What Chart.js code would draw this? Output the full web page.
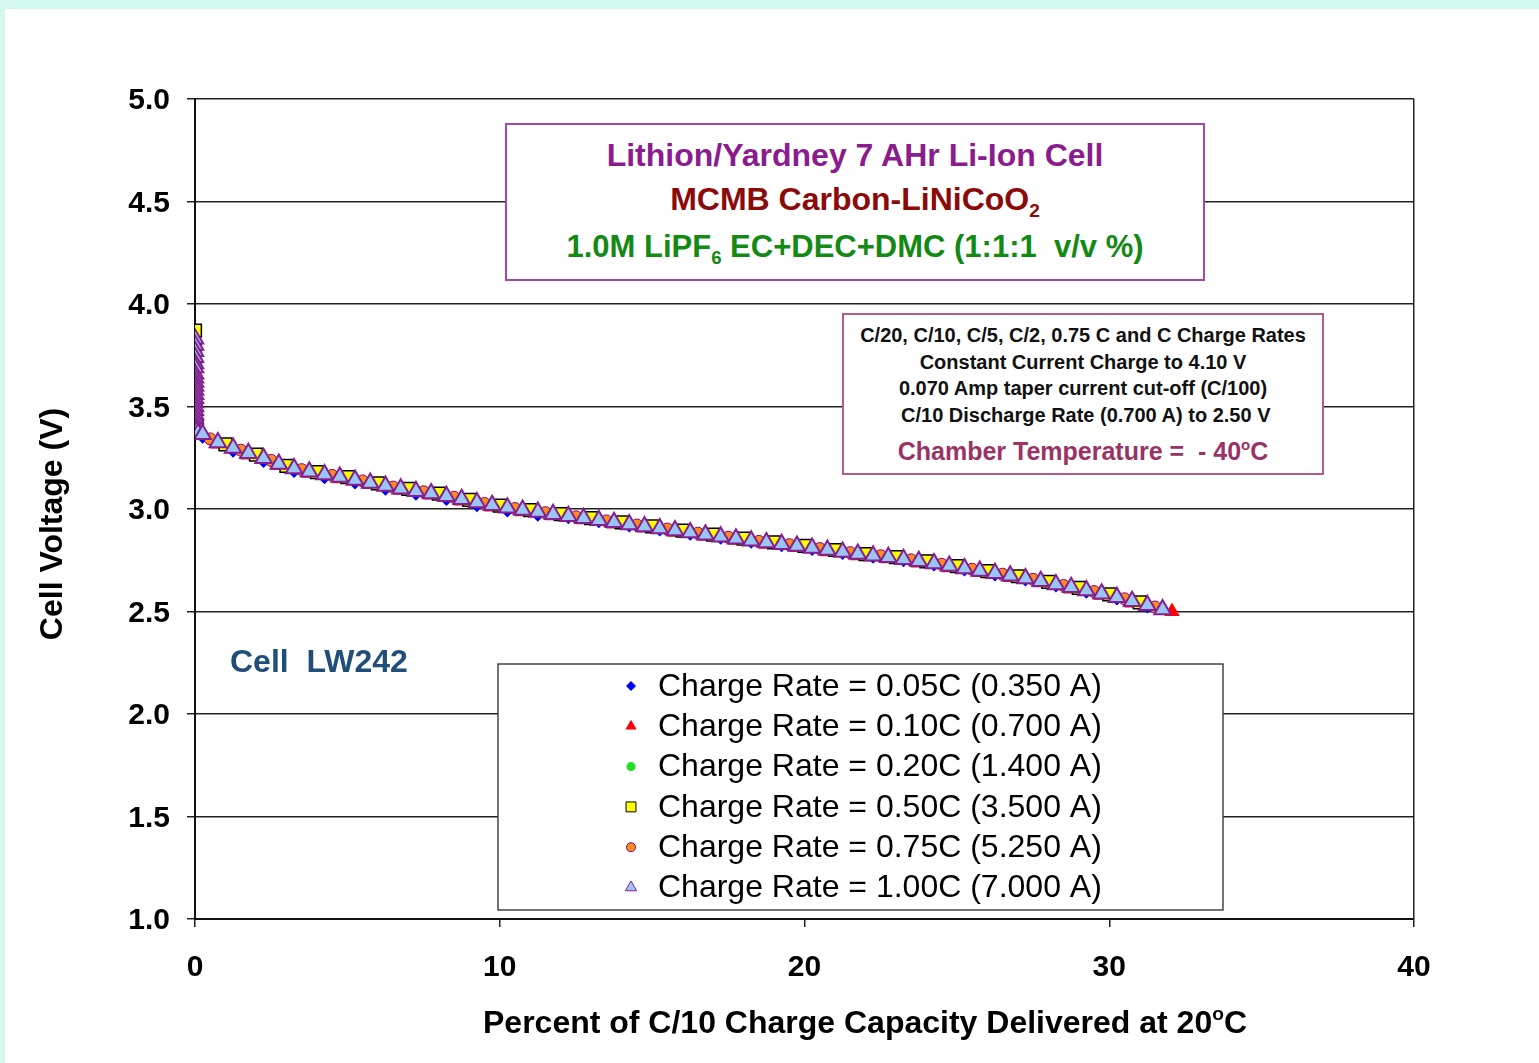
<!DOCTYPE html>
<html>
<head>
<meta charset="utf-8">
<script src="https://cdn.jsdelivr.net/npm/chart.js@4.4.1/dist/chart.umd.min.js"></script>
<style>
  html, body { margin: 0; padding: 0; width: 1539px; height: 1063px; overflow: hidden;
    background: #d3f8ee; font-family: "Liberation Sans", Arial, sans-serif; }
  #panel { position: absolute; left: 5px; top: 9px; width: 1534px; height: 1054px; background: #fff; }
  #chart { position: absolute; left: 0; top: 0; }
  .box { position: absolute; background: #fff; box-sizing: border-box; font-weight: bold; }
  .ln { position: absolute; left: 0; right: 0; text-align: center; white-space: nowrap; }
  .axt { position: absolute; font-weight: bold; font-size: 32px; line-height: 38px; height: 38px;
    text-align: center; white-space: nowrap; color: #000; }
  sub { font-size: 60%; vertical-align: -0.35em; line-height: 0; }
  sup { font-size: 60%; vertical-align: 0.7em; line-height: 0; }
</style>
</head>
<body>
<div id="panel">
  <canvas id="chart" width="1534" height="1054"></canvas>

  <div class="axt" style="left:360px; top:994px; width:1000px;">Percent of C/10 Charge Capacity Delivered at 20<sup>o</sup>C</div>
  <div class="axt" style="left:-154px; top:496px; width:400px; transform:rotate(-90deg);">Cell Voltage (V)</div>

  <div class="box" style="left:500px; top:114px; width:700px; height:158px; border:2px solid #a347a8;">
    <div class="ln" style="top:12px; line-height:36px; font-size:32px; color:#8a1c8e;">Lithion/Yardney 7 AHr Li-Ion Cell</div>
    <div class="ln" style="top:56px; line-height:36px; font-size:32px; color:#8b0a0a;">MCMB Carbon-LiNiCoO<sub>2</sub></div>
    <div class="ln" style="top:104px; line-height:36px; font-size:31px; color:#138a13;">1.0M LiPF<sub>6</sub> EC+DEC+DMC (1:1:1&nbsp; v/v %)</div>
  </div>

  <div class="box" style="left:837px; top:304px; width:482px; height:162px; border:2px solid #b45a8c;">
    <div class="ln" style="top:7px; line-height:26px; font-size:20px; color:#111;">C/20, C/10, C/5, C/2, 0.75 C and C Charge Rates</div>
    <div class="ln" style="top:34px; line-height:26px; font-size:20px; color:#111;">Constant Current Charge to 4.10 V</div>
    <div class="ln" style="top:60px; line-height:26px; font-size:20px; color:#111;">0.070 Amp taper current cut-off (C/100)</div>
    <div class="ln" style="top:87px; line-height:26px; font-size:20px; color:#111;">&nbsp;C/10 Discharge Rate (0.700 A) to 2.50 V</div>
    <div class="ln" style="top:120px; line-height:32px; font-size:25px; color:#993366;">Chamber Temperature = &nbsp;- 40<sup>o</sup>C</div>
  </div>

  <div class="box" style="left:225px; top:634px; background:transparent; font-size:32px; line-height:36px; color:#1f4e79; white-space:pre;">Cell  LW242</div>
</div>

<script>
// x = percent of C/10 charge capacity, y = cell voltage (V)
const rate005X = [0, 0, 0, 0, 0, 0, 0.05, 0.25, 1.25, 2.25, 3.25, 4.25, 5.25, 6.25, 7.25, 8.25, 9.25, 10.25, 11.25, 12.25, 13.25, 14.25, 15.25, 16.25, 17.25, 18.25, 19.25, 20.25, 21.25, 22.25, 23.25, 24.25, 25.25, 26.25, 27.25, 28.25, 29.25, 30.25, 31.25];
const rate005Y = [3.79, 3.72, 3.65, 3.57, 3.50, 3.44, 3.38, 3.347, 3.279, 3.229, 3.18, 3.15, 3.124, 3.094, 3.069, 3.044, 3.014, 2.988, 2.967, 2.955, 2.935, 2.915, 2.895, 2.875, 2.855, 2.835, 2.818, 2.80, 2.78, 2.762, 2.745, 2.724, 2.70, 2.676, 2.651, 2.622, 2.592, 2.559, 2.52];

const rate010X = [0, 0, 0, 0, 0, 0, 0.05, 0.75, 1.75, 2.75, 3.75, 4.75, 5.75, 6.75, 7.75, 8.75, 9.75, 10.75, 11.75, 12.75, 13.75, 14.75, 15.75, 16.75, 17.75, 18.75, 19.75, 20.75, 21.75, 22.75, 23.75, 24.75, 25.75, 26.75, 27.75, 28.75, 29.75, 30.75, 31.75, 32.06];
const rate010Y = [3.83, 3.75, 3.67, 3.59, 3.52, 3.45, 3.39, 3.317, 3.264, 3.212, 3.174, 3.148, 3.119, 3.091, 3.068, 3.039, 3.01, 2.987, 2.967, 2.947, 2.927, 2.907, 2.887, 2.867, 2.847, 2.828, 2.812, 2.792, 2.772, 2.757, 2.737, 2.714, 2.69, 2.666, 2.64, 2.61, 2.579, 2.542, 2.505, 2.50];

const rate020X = [0, 0, 0, 0, 0.05, 1, 2, 3, 4, 5, 6, 7, 8, 9, 10, 11, 12, 13, 14, 15, 16, 17, 18, 19, 20, 21, 22, 23, 24, 25, 26, 27, 28, 29, 30, 31];
const rate020Y = [3.78, 3.68, 3.58, 3.49, 3.42, 3.306, 3.256, 3.201, 3.171, 3.146, 3.116, 3.089, 3.066, 3.036, 3.008, 2.986, 2.966, 2.946, 2.926, 2.906, 2.886, 2.866, 2.846, 2.828, 2.811, 2.791, 2.771, 2.756, 2.736, 2.712, 2.688, 2.663, 2.636, 2.606, 2.574, 2.536];

const rate050X = [0, 0, 0, 0, 0, 0, 0.05, 1, 2, 3, 4, 5, 6, 7, 8, 9, 10, 11, 12, 13, 14, 15, 16, 17, 18, 19, 20, 21, 22, 23, 24, 25, 26, 27, 28, 29, 30, 31];
const rate050Y = [3.87, 3.79, 3.70, 3.61, 3.53, 3.46, 3.41, 3.315, 3.265, 3.21, 3.18, 3.155, 3.125, 3.098, 3.075, 3.045, 3.017, 2.995, 2.975, 2.955, 2.935, 2.915, 2.895, 2.875, 2.855, 2.837, 2.82, 2.80, 2.78, 2.765, 2.745, 2.721, 2.697, 2.672, 2.645, 2.615, 2.583, 2.545];

const rate075X = [0, 0, 0, 0, 0, 0, 0.05, 0.5, 1.5, 2.5, 3.5, 4.5, 5.5, 6.5, 7.5, 8.5, 9.5, 10.5, 11.5, 12.5, 13.5, 14.5, 15.5, 16.5, 17.5, 18.5, 19.5, 20.5, 21.5, 22.5, 23.5, 24.5, 25.5, 26.5, 27.5, 28.5, 29.5, 30.5, 31.5];
const rate075Y = [3.81, 3.73, 3.65, 3.57, 3.50, 3.44, 3.39, 3.342, 3.287, 3.237, 3.192, 3.164, 3.137, 3.107, 3.084, 3.057, 3.027, 3.002, 2.982, 2.962, 2.942, 2.922, 2.902, 2.882, 2.862, 2.842, 2.826, 2.807, 2.787, 2.772, 2.752, 2.73, 2.706, 2.682, 2.657, 2.627, 2.597, 2.562, 2.522];

const rate100X = [0, 0, 0, 0, 0, 0, 0, 0, 0, 0, 0, 0, 0, 0, 0, 0, 0, 0, 0, 0, 0.02, 0.05, 0.1, 0.25, 0.75, 1.25, 1.75, 2.25, 2.75, 3.25, 3.75, 4.25, 4.75, 5.25, 5.75, 6.25, 6.75, 7.25, 7.75, 8.25, 8.75, 9.25, 9.75, 10.25, 10.75, 11.25, 11.75, 12.25, 12.75, 13.25, 13.75, 14.25, 14.75, 15.25, 15.75, 16.25, 16.75, 17.25, 17.75, 18.25, 18.75, 19.25, 19.75, 20.25, 20.75, 21.25, 21.75, 22.25, 22.75, 23.25, 23.75, 24.25, 24.75, 25.25, 25.75, 26.25, 26.75, 27.25, 27.75, 28.25, 28.75, 29.25, 29.75, 30.25, 30.75, 31.25, 31.75];
const rate100Y = [3.83, 3.80, 3.77, 3.74, 3.71, 3.69, 3.66, 3.64, 3.62, 3.60, 3.58, 3.56, 3.54, 3.52, 3.50, 3.48, 3.46, 3.44, 3.42, 3.40, 3.39, 3.38, 3.37, 3.365, 3.325, 3.297, 3.272, 3.247, 3.22, 3.198, 3.182, 3.168, 3.156, 3.142, 3.127, 3.112, 3.099, 3.087, 3.076, 3.062, 3.047, 3.032, 3.018, 3.006, 2.995, 2.985, 2.975, 2.965, 2.955, 2.945, 2.935, 2.925, 2.915, 2.905, 2.895, 2.885, 2.875, 2.865, 2.855, 2.845, 2.836, 2.828, 2.82, 2.81, 2.80, 2.79, 2.78, 2.772, 2.765, 2.755, 2.745, 2.734, 2.722, 2.71, 2.698, 2.686, 2.674, 2.661, 2.648, 2.632, 2.618, 2.602, 2.587, 2.569, 2.55, 2.53, 2.51];

const seriesLabels = [
  "Charge Rate = 0.05C (0.350 A)",
  "Charge Rate = 0.10C (0.700 A)",
  "Charge Rate = 0.20C (1.400 A)",
  "Charge Rate = 0.50C (3.500 A)",
  "Charge Rate = 0.75C (5.250 A)",
  "Charge Rate = 1.00C (7.000 A)"
];
const xTicks = [0, 10, 20, 30, 40];
const yTicks = [1.0, 1.5, 2.0, 2.5, 3.0, 3.5, 4.0, 4.5, 5.0];

const FONT = '"Liberation Sans", Arial, sans-serif';

function pts(xs, ys) {
  return xs.map((x, i) => ({ x: x, y: ys[i] }));
}

// marker styles, first dataset drawn at the bottom, 1.00C on top
const styles = [
  { pointStyle: "rectRot",  bg: "#0000ff", border: "#0000ff", bw: 0,   r: 6,   lr: 5 },
  { pointStyle: "triangle", bg: "#ff0000", border: "#ff0000", bw: 0,   r: 9,   lr: 6.5 },
  { pointStyle: "circle",   bg: "#22dd22", border: "#22dd22", bw: 0,   r: 4.5, lr: 4.5 },
  { pointStyle: "rect",     bg: "#ffff00", border: "#000000", bw: 1.5, r: 9,   lr: 7 },
  { pointStyle: "circle",   bg: "#ff8c1a", border: "#800080", bw: 1,   r: 6,   lr: 4.5 },
  { pointStyle: "triangle", bg: "#99c6f5", border: "#86208f", bw: 2,   r: 9.5, lr: 6.5 }
];
const allData = [
  pts(rate005X, rate005Y), pts(rate010X, rate010Y), pts(rate020X, rate020Y),
  pts(rate050X, rate050Y), pts(rate075X, rate075Y), pts(rate100X, rate100Y)
];

const datasets = allData.map((d, i) => ({
  label: seriesLabels[i],
  data: d,
  showLine: false,
  pointStyle: styles[i].pointStyle,
  pointRadius: styles[i].r,
  pointBackgroundColor: styles[i].bg,
  pointBorderColor: styles[i].border,
  pointBorderWidth: styles[i].bw,
  backgroundColor: styles[i].bg,
  borderColor: styles[i].border,
  order: 6 - i
}));

// legend box inside the plot, drawn by hand
const legendBox = {
  id: "legendBox",
  afterDraw(chart) {
    const ctx = chart.ctx;
    ctx.save();
    ctx.fillStyle = "#fff";
    ctx.fillRect(493, 655, 725, 246);
    ctx.strokeStyle = "#444";
    ctx.lineWidth = 1.5;
    ctx.strokeRect(493, 655, 725, 246);
    seriesLabels.forEach((lab, i) => {
      const y = 677 + i * 40.3;
      const s = styles[i];
      ctx.fillStyle = s.bg;
      ctx.strokeStyle = s.border;
      ctx.lineWidth = s.bw ? 1 : 0;
      if (Chart.helpers && Chart.helpers.drawPoint) {
        Chart.helpers.drawPoint(ctx, { pointStyle: s.pointStyle, radius: s.lr, rotation: 0, borderWidth: s.bw ? 1 : 0 }, 626, y);
      } else {
        ctx.beginPath(); ctx.arc(626, y, s.lr, 0, Math.PI * 2); ctx.fill();
      }
      ctx.fillStyle = "#000";
      ctx.font = "32px " + FONT;
      ctx.textBaseline = "middle";
      ctx.textAlign = "left";
      ctx.fillText(lab, 653, y + 1);
    });
    ctx.restore();
  }
};

const ctx = document.getElementById("chart").getContext("2d");
new Chart(ctx, {
  type: "scatter",
  data: { datasets },
  plugins: [legendBox],
  options: {
    responsive: false,
    animation: false,
    layout: { padding: { top: 90, right: 125, left: 0, bottom: 0 } },
    plugins: { legend: { display: false }, tooltip: { enabled: false } },
    scales: {
      x: {
        type: "linear",
        min: xTicks[0],
        max: xTicks[xTicks.length - 1],
        afterBuildTicks: (axis) => { axis.ticks = xTicks.map(v => ({ value: v })); },
        afterFit: (axis) => { axis.height = 144; },
        ticks: { color: "#000", padding: 23, font: { family: FONT, size: 30, weight: "bold" } },
        grid: {
          color: (c) => (c.tick && c.tick.value === 40 ? "#222" : "rgba(0,0,0,0)"),
          tickColor: "#222",
          tickLength: 8,
          lineWidth: 1.5
        },
        border: { color: "#111", width: 2 }
      },
      y: {
        min: yTicks[0],
        max: yTicks[yTicks.length - 1],
        afterBuildTicks: (axis) => { axis.ticks = yTicks.map(v => ({ value: v })); },
        afterFit: (axis) => { axis.width = 190; },
        ticks: {
          color: "#000",
          padding: 17,
          labelOffset: 2,
          callback: (v) => Number(v).toFixed(1),
          font: { family: FONT, size: 30, weight: "bold" }
        },
        grid: { color: "#222", tickColor: "#222", tickLength: 8, lineWidth: 1.5 },
        border: { color: "#111", width: 2 }
      }
    }
  }
});
</script>
</body>
</html>
